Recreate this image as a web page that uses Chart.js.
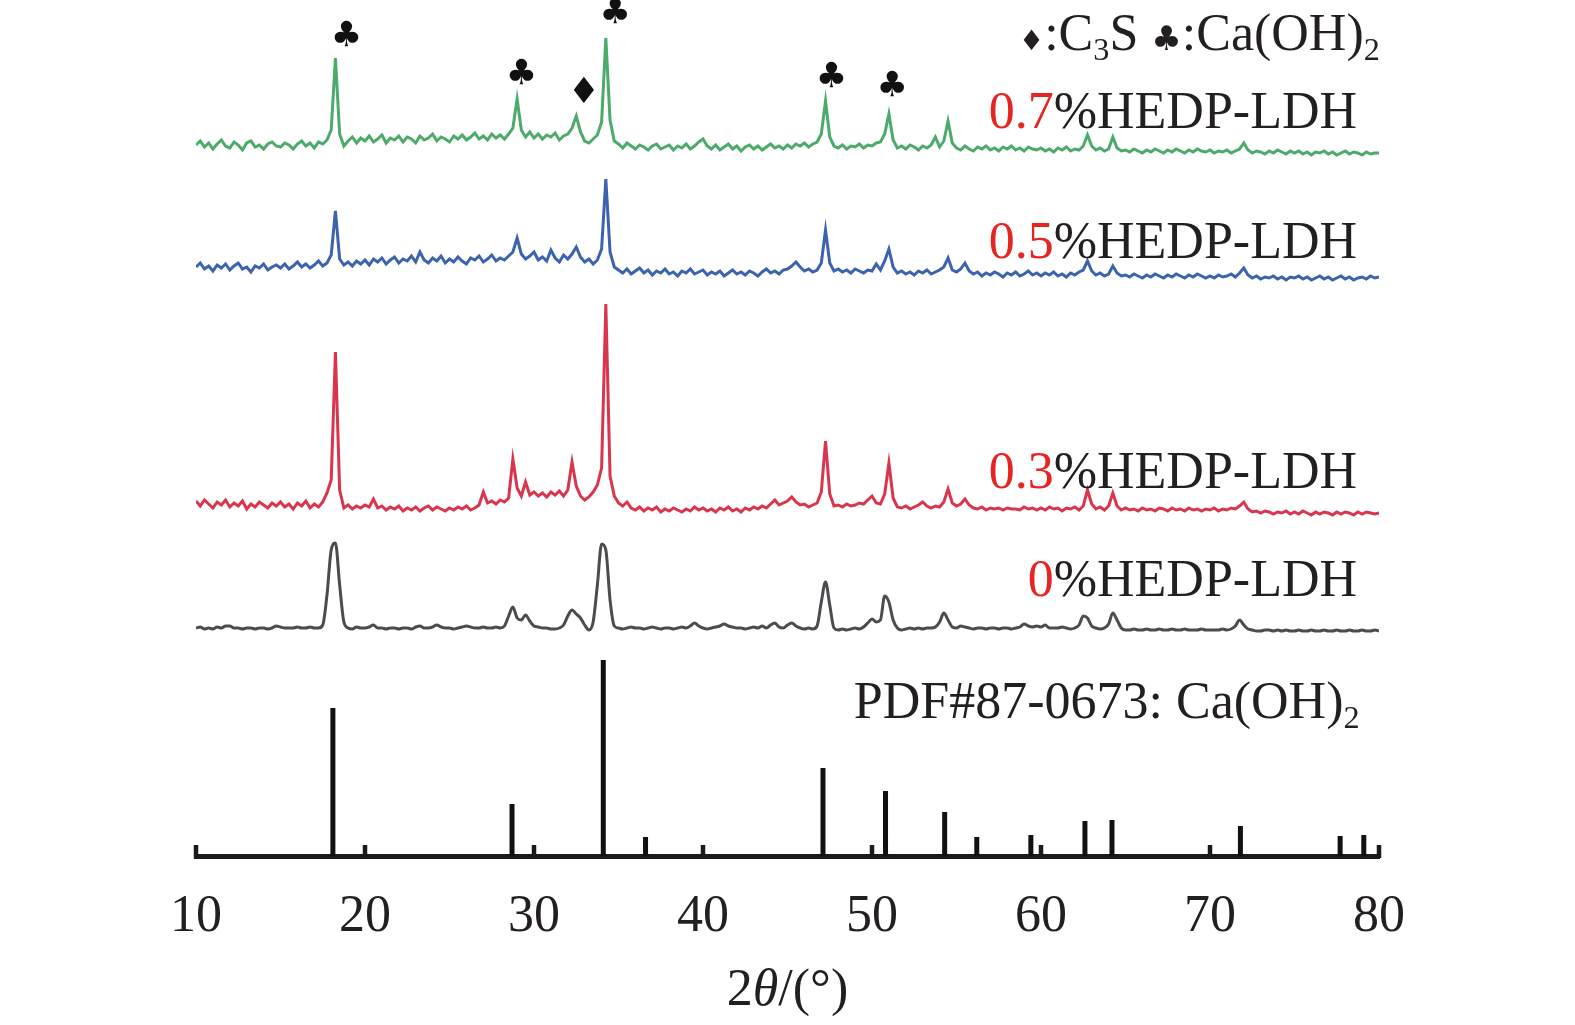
<!DOCTYPE html>
<html>
<head>
<meta charset="utf-8">
<title>XRD HEDP-LDH</title>
<script src="https://cdn.jsdelivr.net/npm/chart.js@4.4.1/dist/chart.umd.min.js"></script>
<style>
  html, body { margin: 0; padding: 0; background: #fff; }
</style>
</head>
<body>
<canvas id="xrd" width="1575" height="1025"></canvas>
<script>
// 2θ sampling grid (0.25° step, 10-80°)
var twoTheta = [];
for (var i = 0; i <= 280; i++) twoTheta.push(10 + i * 0.25);

var seriesNames = ["0.7%HEDP-LDH", "0.5%HEDP-LDH", "0.3%HEDP-LDH", "0%HEDP-LDH"];
var offsets = [698, 571, 336, 216]; // vertical stacking of the patterns

// intensities, one value per grid step
var green07 = [
  13,17,11,15,9,14,18,12,10,16,13,8,15,17,11,13,9,14,16,12,
  11,15,13,9,14,17,12,15,10,16,14,18,28,100,24,12,17,21,15,20,
  17,22,16,19,23,15,20,18,22,16,21,19,15,22,18,20,24,17,21,19,
  16,22,19,23,18,21,25,19,22,18,24,20,23,19,24,30,59,28,21,26,
  20,24,19,23,21,25,18,22,24,30,42,26,17,15,19,23,36,120,38,17,
  14,10,15,12,9,13,11,8,12,14,9,11,13,8,12,10,14,9,12,16,
  19,12,9,13,8,11,14,9,12,7,11,13,9,12,8,11,14,10,12,9,
  13,10,14,12,15,11,14,16,24,57,21,12,10,13,9,12,11,14,10,13,
  12,15,16,24,44,18,10,12,9,13,11,8,12,10,13,21,11,17,37,15,
  10,8,12,9,7,11,9,12,8,10,7,11,9,12,8,10,7,11,9,8,
  10,7,9,6,10,8,11,7,9,8,12,23,12,8,10,7,9,21,10,7,
  8,6,9,7,5,8,6,9,7,5,8,6,9,7,5,8,6,9,7,6,
  8,5,7,6,8,5,7,9,15,8,5,7,6,4,7,5,8,6,4,7,
  5,7,4,6,3,6,5,7,4,6,3,5,7,4,6,5,3,6,4,5,
  5
];
var blue05 = [
  18,22,16,19,14,20,17,21,15,19,22,16,18,13,19,17,21,15,18,20,
  17,21,16,19,23,18,21,17,20,24,19,22,30,74,26,20,23,19,24,21,
  25,20,26,23,27,21,25,28,22,26,24,29,23,33,25,22,27,24,29,22,
  26,23,28,24,21,27,25,29,23,26,30,24,27,25,29,33,47,31,26,29,
  33,25,28,24,35,27,23,30,26,31,38,28,23,26,21,25,36,106,33,18,
  15,12,16,11,14,17,12,15,10,14,12,16,11,13,9,14,12,16,11,13,
  15,10,13,11,14,9,12,15,11,13,10,14,12,9,13,16,12,14,11,15,
  16,19,23,18,14,16,13,15,22,55,22,14,16,13,15,12,16,14,12,15,
  14,21,15,24,36,18,12,14,11,13,10,14,12,15,11,13,15,18,27,15,
  13,16,22,14,11,13,9,12,10,13,11,8,12,10,13,9,11,14,10,12,
  9,12,10,13,9,11,8,12,10,13,15,24,14,10,12,9,11,19,12,9,
  10,8,11,9,7,10,8,11,9,7,10,8,11,9,7,10,8,11,9,7,
  9,7,10,8,9,11,8,12,17,10,7,9,6,8,7,9,6,8,5,8,
  7,9,6,8,5,7,9,6,8,5,7,9,6,8,5,7,8,6,9,7,
  8
];
var red03 = [
  19,14,20,16,12,18,15,20,13,17,14,19,11,16,13,18,15,12,17,14,
  18,13,16,11,17,14,19,12,16,13,18,27,40,168,30,12,15,11,14,12,
  15,13,21,12,14,10,13,11,14,9,12,10,13,9,12,14,10,13,11,9,
  12,10,13,11,14,10,12,15,28,17,19,16,20,18,22,61,32,24,38,25,
  28,24,27,23,28,25,29,24,30,58,34,24,20,23,28,35,52,216,44,24,
  17,14,18,12,10,13,9,12,10,13,8,11,9,12,10,8,11,9,13,10,
  12,9,11,8,12,10,13,9,11,8,12,10,13,11,14,12,16,20,15,17,
  19,23,18,15,16,13,15,17,28,79,26,14,15,13,16,14,15,17,16,20,
  24,17,16,26,57,22,13,12,14,11,13,15,18,14,12,14,13,18,31,17,
  14,16,21,15,12,11,13,10,12,11,12,10,12,11,11,10,13,11,12,10,
  12,10,13,11,12,9,12,11,13,10,14,30,16,11,13,10,14,27,14,10,
  12,10,11,9,12,10,11,9,12,11,9,12,10,11,9,12,10,11,9,11,
  10,12,9,11,10,12,11,14,18,11,8,9,7,9,8,6,8,7,9,6,
  8,6,9,7,5,8,6,8,7,5,8,6,8,7,5,8,6,8,7,6,
  7
];
var gray0 = [
  12,13,11,12,11,13,12,14,14,12,12,11,12,12,11,12,12,11,12,14,
  13,12,12,12,13,12,12,13,12,12,15,45,90,97,55,18,12,11,13,12,
  12,13,15,12,12,11,12,12,11,12,12,11,13,14,12,12,13,15,13,12,
  12,11,12,13,14,13,12,12,13,12,12,13,12,14,24,33,22,20,25,19,
  14,13,12,12,11,11,12,15,24,30,26,22,15,10,18,55,96,90,40,14,
  12,11,12,13,12,12,11,12,13,12,11,12,12,11,12,13,12,14,17,14,
  12,11,12,13,14,16,14,13,12,12,11,12,13,12,14,12,15,17,13,12,
  15,17,14,12,11,12,11,14,38,58,35,12,10,11,10,11,12,11,13,17,
  21,18,20,44,38,20,12,10,11,12,11,12,11,12,12,13,18,27,20,13,
  12,14,13,12,11,12,12,11,12,12,11,12,12,11,12,13,16,14,13,14,
  13,15,12,12,12,13,12,11,12,15,24,22,14,12,11,12,16,27,20,12,
  10,10,11,10,10,11,10,10,11,10,10,11,10,10,11,10,10,10,11,10,
  10,10,10,11,10,11,14,20,15,11,10,9,9,10,10,9,10,9,10,9,
  9,10,9,9,10,9,9,10,9,9,10,9,9,10,9,9,10,9,9,10,
  9
];

// PDF#87-0673 Ca(OH)2 reference lines
var stickPos = [18.1, 28.7, 34.1, 36.6, 47.1, 50.8, 54.3, 56.2, 59.4, 62.6, 64.2, 71.8, 77.7, 79.1];
var stickInt = [148, 52, 196, 19, 88, 65, 44, 19, 21, 35, 36, 30, 20, 21];

// phase markers over the 0.7% pattern
var markX = [18.9, 29.25, 32.95, 34.8, 47.6, 51.2];
var markY = [819, 781, 762, 842, 778, 769];
var markSym = ["\u2663", "\u2663", "\u2666", "\u2663", "\u2663", "\u2663"];

// label anchors (right edge 2θ, baseline intensity)
var labelX = [78.7, 78.7, 78.7, 78.7];
var labelY = [728, 598, 368, 260];

var colors = ["#4caa6a", "#3c63ad", "#d9364e", "#4b4b50"];
var serif = "'Liberation Serif', 'Times New Roman', serif";
var black = "#231f20";
var redText = "#e52521";

function traceData(vals, off) {
  return twoTheta.map(function (t, i) { return { x: t, y: off + vals[i] }; });
}

var stickData = [];
stickPos.forEach(function (p, i) {
  stickData.push({ x: p, y: 0 }, { x: p, y: stickInt[i] }, { x: p, y: null });
});

// draws text pieces (normal / subscript / italic / colored), right aligned
function richText(ctx, parts, xRight, yBase, size) {
  var w = 0;
  parts.forEach(function (p) {
    ctx.font = fontOf(p, size);
    p._w = ctx.measureText(p.t).width;
    w += p._w;
  });
  var x = xRight - w;
  parts.forEach(function (p) {
    ctx.font = fontOf(p, size);
    ctx.fillStyle = p.c || black;
    ctx.fillText(p.t, x, yBase + (p.sub ? size * 0.2 : 0));
    x += p._w;
  });
  return w;
}
function fontOf(p, size) {
  var s = p.size || (p.sub ? size * 0.62 : size);
  var fam = p.sym ? "'DejaVu Sans', sans-serif" : serif;
  return (p.it ? "italic " : "") + s + "px " + fam;
}

var decor = {
  id: "decor",
  afterDraw: function (chart) {
    var ctx = chart.ctx;
    var xs = chart.scales.x, ys = chart.scales.y;
    var area = chart.chartArea;
    ctx.save();

    // inward tick marks
    ctx.strokeStyle = "#1a1a1a";
    ctx.lineWidth = 4.5;
    xs.ticks.forEach(function (t) {
      var px = xs.getPixelForValue(t.value);
      ctx.beginPath();
      ctx.moveTo(px, area.bottom + 2);
      ctx.lineTo(px, area.bottom - 11);
      ctx.stroke();
    });

    ctx.textAlign = "left";
    ctx.textBaseline = "alphabetic";

    // pattern labels
    var nums = ["0.7", "0.5", "0.3", "0"];
    nums.forEach(function (n, i) {
      richText(ctx, [{ t: n, c: redText }, { t: "%HEDP-LDH" }],
        xs.getPixelForValue(labelX[i]), ys.getPixelForValue(labelY[i]), 52);
    });
    richText(ctx, [{ t: "PDF#87-0673: Ca(OH)" }, { t: "2", sub: true }],
      xs.getPixelForValue(78.85), ys.getPixelForValue(138), 52);

    // legend of symbols
    richText(ctx, [
      { t: "\u2666", sym: true, size: 28 }, { t: ":C" }, { t: "3", sub: true }, { t: "S " },
      { t: "\u2663", sym: true, size: 34 }, { t: ":Ca(OH)" }, { t: "2", sub: true }
    ], xs.getPixelForValue(80.05), ys.getPixelForValue(806), 52);

    // peak markers
    ctx.textAlign = "center";
    ctx.textBaseline = "middle";
    ctx.fillStyle = "#111";
    markSym.forEach(function (s, i) {
      ctx.font = (s === "\u2666" ? 36 : 35) + "px 'DejaVu Sans', sans-serif";
      ctx.fillText(s, xs.getPixelForValue(markX[i]), ys.getPixelForValue(markY[i]));
    });

    // axis title 2θ/(°)
    ctx.textAlign = "left";
    ctx.textBaseline = "alphabetic";
    var parts = [{ t: "2" }, { t: "\u03b8", it: true }, { t: "/(\u00b0)" }];
    var total = 0;
    parts.forEach(function (p) { ctx.font = fontOf(p, 52); total += ctx.measureText(p.t).width; });
    var cx = (area.left + area.right) / 2;
    richText(ctx, parts, cx + total / 2, xs.top + 149, 52);

    ctx.restore();
  }
};

var ds = [green07, blue05, red03, gray0].map(function (vals, i) {
  return {
    label: seriesNames[i],
    data: traceData(vals, offsets[i]),
    borderColor: colors[i],
    borderWidth: 3,
    pointRadius: 0,
    tension: 0,
    cubicInterpolationMode: i === 3 ? "monotone" : "default",
    fill: false
  };
});
ds.push({
  label: "PDF#87-0673",
  data: stickData,
  borderColor: "#111",
  borderWidth: 5,
  borderCapStyle: "butt",
  pointRadius: 0,
  spanGaps: false,
  fill: false
});

new Chart(document.getElementById("xrd"), {
  type: "line",
  data: { datasets: ds },
  options: {
    responsive: false,
    animation: false,
    layout: { padding: { top: 18, right: 196, left: 0, bottom: 0 } },
    plugins: { legend: { display: false }, tooltip: { enabled: false } },
    scales: {
      x: {
        type: "linear", min: 10, max: 80,
        ticks: { stepSize: 10, padding: 30, color: black, maxRotation: 0, font: { family: serif, size: 52 } },
        grid: { drawOnChartArea: false, drawTicks: false },
        border: { display: true, width: 5, color: "#1a1a1a" },
        afterFit: function (s) { s.height = 169; }
      },
      y: {
        min: 0, max: 838,
        ticks: { display: false },
        grid: { display: false },
        border: { display: false },
        afterFit: function (s) { s.width = 196; }
      }
    }
  },
  plugins: [decor]
});
</script>
</body>
</html>
